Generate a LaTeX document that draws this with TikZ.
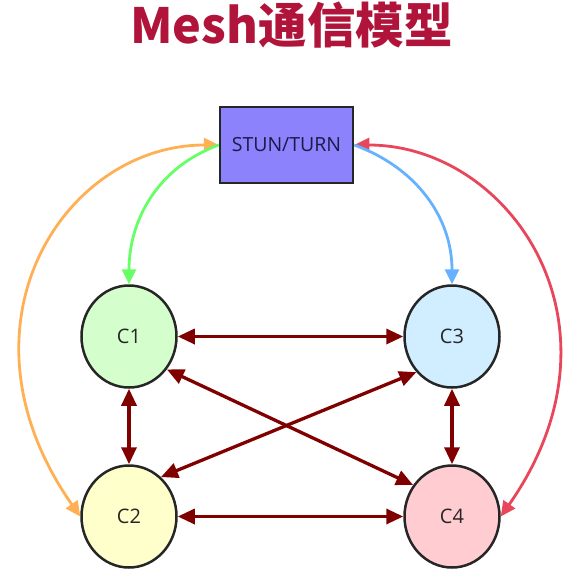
\documentclass[tikz,border=0pt]{standalone}
\usepackage{fontspec}
\setsansfont{Open Sans}
\newfontfamily\cjk{Noto Sans CJK SC}
\usepackage{tikz}
\usetikzlibrary{shapes}
\usetikzlibrary{positioning}
\usetikzlibrary{arrows.meta}
\definecolor{titlered}{HTML}{B0143A}
\definecolor{boxblue}{HTML}{8C82FC}
\definecolor{boxtext}{HTML}{1C1A48}
\definecolor{fillg}{HTML}{D4FFCC}
\definecolor{filly}{HTML}{FFFFCC}
\definecolor{fillb}{HTML}{D0EEFF}
\definecolor{fillr}{HTML}{FFCCD2}
\definecolor{linkred}{HTML}{800000}
\definecolor{curveg}{HTML}{66FF66}
\definecolor{curveo}{HTML}{FFB055}
\definecolor{curveb}{HTML}{66B2FF}
\definecolor{curver}{HTML}{E8465A}
\tikzset{
    curvetip/.tip = {Triangle[length=15pt,width=14pt]},
    linktip/.tip = {Triangle[length=17pt,width=15pt]},
    mybox/.style = {rectangle, line width=2.5pt, draw=black!85, minimum width=133pt, minimum height=76pt, fill=boxblue, text=boxtext, font=\sffamily\fontsize{19.5}{22}\selectfont},
    mynode/.style = {ellipse, line width=2.5pt, draw=black!85, minimum width=95pt, minimum height=102pt, text=black!85, font=\sffamily\fontsize{20}{22}\selectfont},
    mynodeg/.style = {mynode, fill=fillg},
    mynodey/.style = {mynode, fill=filly},
    mynodeb/.style = {mynode, fill=fillb},
    mynoder/.style = {mynode, fill=fillr},
    edgen/.style = {linktip-linktip, line width=3.3pt, linkred},
    edgeg/.style = {-curvetip, line width=2.8pt, curveg}, % to C1
    edgeo/.style = {curvetip-curvetip, line width=2.8pt, curveo}, % to C2
    edgeb/.style = {-curvetip, line width=2.8pt, curveb}, % to C3
    edger/.style = {curvetip-curvetip, line width=2.8pt, curver} % to C4
}

\begin{document}
\begin{tikzpicture}[x=1pt, y=-1pt]
  \useasboundingbox (0,0) rectangle (575,573);

  \node[anchor=base, text=titlered, font=\cjk\bfseries\fontsize{48.5}{56}\selectfont] (title) at (291.5,43) {Mesh通信模型};

  \node[mybox] (stun) at (286.5,145) {STUN/TURN};

  \node[mynodeg] (c1) at (129,336.5) {C1};
  \node[mynodey] (c2) at (129,516.5) {C2};
  \node[mynodeb] (c3) at (452,336.5) {C3};
  \node[mynoder] (c4) at (452,516.5) {C4};

  % server links
  \draw[edgeo] (stun.west) to[out=180, in=125, out looseness=1, in looseness=1.5] (c2.west);
  \draw[edger] (stun.east) to[out=0, in=55, out looseness=1, in looseness=1.5] (c4.east);
  \draw[edgeg] (stun.west) to[out=200, in=90] (c1.north);
  \draw[edgeb] (stun.east) to[out=-20, in=90] (c3.north);

  % peer links
  \draw[edgen] (c1) -- (c3);
  \draw[edgen] (c2) -- (c4);
  \draw[edgen] (c1) -- (c2);
  \draw[edgen] (c3) -- (c4);
  \draw[edgen] (c1.-41) -- (c4.141);
  \draw[edgen] (c2.51) -- (c3.225);

\end{tikzpicture}
\end{document}
